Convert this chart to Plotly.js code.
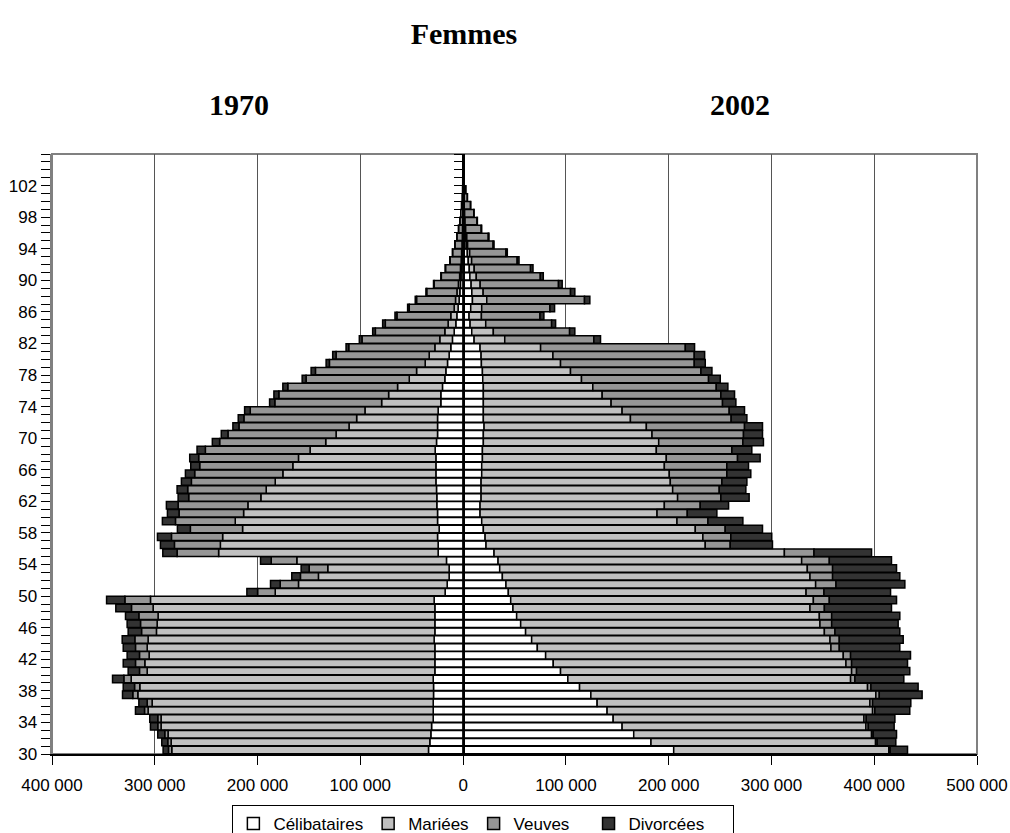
<!DOCTYPE html>
<html>
<head>
<meta charset="utf-8">
<script src="https://cdn.plot.ly/plotly-3.0.1.min.js"></script>
<style>
  body { margin: 0; background: #fff; }
  #chart { width: 1010px; height: 833px; }
</style>
</head>
<body>
<div id="chart"></div>
<script>
// ages (one bar per age), values in thousands of women
const ages = [30, 31, 32, 33, 34, 35, 36, 37, 38, 39, 40, 41, 42, 43, 44, 45, 46, 47, 48, 49,
  50, 51, 52, 53, 54, 55, 56, 57, 58, 59, 60, 61, 62, 63, 64, 65, 66, 67, 68, 69,
  70, 71, 72, 73, 74, 75, 76, 77, 78, 79, 80, 81, 82, 83, 84, 85, 86, 87, 88, 89,
  90, 91, 92, 93, 94, 95, 96, 97, 98, 99, 100, 101, 102, 103, 104, 105];

// 1970
const cel1970 = [33.7, 32.4, 31.4, 30.7, 29.1, 29.1, 29.1, 28.8, 28.8, 29.1, 27.5, 27.5, 27.5, 27.5, 28.2, 27.5, 27.5, 27.5, 27.5, 28.2,
  17.5, 15.5, 13.6, 13.6, 16.2, 24.3, 24.3, 24.9, 23.3, 24.9, 24.9, 25.6, 25.6, 25.9, 26.5, 26.5, 26.5, 26.5, 27.2, 25.9,
  24.9, 24.9, 24.9, 24.3, 21.7, 21.7, 20.1, 17.8, 16.8, 15.2, 13.6, 12.0, 10.4, 8.7, 7.1, 6.1, 4.9, 3.9, 3.2, 2.6,
  2.0, 1.6, 1.2, 1.0, 0.8, 0.6, 0.45, 0.3, 0.25, 0.18, 0.1, 0.06, 0.04, 0.02, 0.01, 0.01];
const mar1970 = [249.8, 251.7, 255.7, 263.2, 264.8, 277.4, 273.5, 287.7, 285.8, 293.9, 279.9, 282.2, 278.0, 279.9, 278.3, 270.9, 270.2, 269.3, 274.1, 276.0,
  165.3, 144.7, 127.2, 118.1, 145.6, 213.6, 211.9, 209.1, 191.3, 196.8, 188.7, 183.8, 171.2, 165.7, 156.3, 148.9, 139.2, 133.7, 121.7, 107.8,
  98.7, 86.1, 78.7, 71.2, 57.6, 50.8, 43.7, 34.6, 28.5, 21.7, 19.4, 15.5, 12.3, 9.1, 7.5, 5.9, 3.8, 3.5, 2.8, 2.0,
  1.4, 1.0, 0.7, 0.5, 0.3, 0.2, 0.15, 0.1, 0.05, 0.03, 0.02, 0.01, 0, 0, 0, 0];
const veu1970 = [3.2, 3.3, 3.2, 3.2, 3.2, 3.5, 4.8, 4.9, 5.1, 7.1, 7.5, 9.1, 9.4, 11.4, 12.9, 14.5, 16.2, 18.7, 21.1, 24.9,
  17.2, 17.8, 17.5, 18.1, 24.9, 40.4, 44.7, 49.8, 50.8, 58.2, 62.8, 67.9, 70.2, 76.4, 81.6, 85.8, 90.6, 97.1, 101.9, 103.2,
  105.2, 107.1, 109.7, 111.6, 103.9, 106.8, 106.8, 100.4, 98.4, 93.2, 90.6, 83.8, 75.7, 67.6, 61.1, 52.4, 43.7, 37.9, 29.4, 23.6,
  17.8, 14.5, 10.8, 8.7, 6.8, 5.2, 3.8, 2.7, 2.0, 1.4, 0.9, 0.5, 0.35, 0.2, 0.1, 0.08];
const div1970 = [5.2, 5.8, 6.8, 7.1, 7.8, 8.8, 8.1, 10.0, 11.0, 11.0, 11.0, 11.9, 12.0, 11.9, 12.3, 13.0, 13.0, 13.0, 15.2, 17.8,
  10.4, 9.4, 8.4, 7.8, 10.4, 13.9, 13.6, 13.6, 12.6, 12.7, 11.3, 11.4, 10.3, 10.3, 9.7, 9.0, 8.7, 8.7, 8.1, 7.1,
  6.5, 5.9, 5.5, 5.5, 5.1, 4.8, 4.8, 3.8, 4.2, 3.2, 3.3, 2.6, 2.6, 2.6, 2.6, 1.9, 1.6, 1.3, 0.8, 0.6,
  0.5, 0.4, 0.3, 0.2, 0.2, 0.1, 0.1, 0.1, 0, 0, 0, 0, 0, 0, 0, 0];

// 2002
const cel2002 = [204.9, 182.8, 166.0, 154.7, 146.0, 140.1, 130.4, 124.3, 113.3, 101.9, 94.8, 87.7, 80.3, 72.2, 66.7, 60.8, 56.0, 52.1, 48.5, 46.3,
  44.0, 41.7, 38.2, 35.6, 34.0, 30.1, 22.3, 21.4, 19.7, 18.1, 16.5, 16.5, 17.5, 17.5, 17.5, 18.1, 18.1, 18.8, 18.8, 19.7,
  19.7, 20.4, 19.7, 19.7, 19.7, 19.7, 19.7, 19.1, 18.8, 17.8, 17.5, 16.5, 10.7, 8.4, 6.8, 5.8, 7.4, 9.1, 8.5, 7.8,
  6.6, 6.0, 5.0, 4.1, 3.0, 2.6, 1.9, 1.5, 1.2, 0.8, 0.5, 0.3, 0.12, 0.07, 0.06, 0.04];
const mar2002 = [209.3, 218.5, 231.4, 237.2, 244.0, 258.3, 265.4, 277.3, 280.2, 275.1, 283.2, 284.8, 289.6, 285.7, 290.3, 290.7, 291.2, 294.5, 289.0, 294.5,
  289.7, 301.3, 299.3, 299.3, 295.4, 282.5, 213.3, 211.9, 206.2, 190.0, 172.2, 179.3, 191.2, 186.4, 184.1, 182.5, 177.7, 178.9, 169.2, 170.6,
  164.1, 157.9, 143.1, 135.0, 124.3, 115.6, 106.5, 96.1, 85.7, 77.0, 69.9, 58.9, 29.8, 21.0, 15.2, 12.0, 10.7, 13.9, 11.0, 8.8,
  6.2, 4.8, 3.3, 2.3, 1.4, 1.0, 0.6, 0.4, 0.3, 0.2, 0.1, 0.05, 0.02, 0.01, 0.01, 0];
const veu2002 = [1.3, 1.6, 1.6, 2.3, 2.2, 2.2, 2.6, 3.3, 3.3, 4.2, 4.8, 5.5, 7.1, 8.1, 9.0, 10.3, 11.4, 12.0, 14.0, 15.5,
  17.4, 19.8, 22.0, 24.6, 26.9, 28.8, 24.3, 27.2, 29.1, 30.1, 29.4, 34.9, 42.1, 45.3, 50.2, 56.0, 60.8, 69.3, 73.5, 81.9,
  89.0, 95.5, 98.0, 104.2, 108.4, 115.5, 120.1, 123.6, 126.9, 130.1, 137.5, 140.8, 86.7, 74.2, 64.1, 57.0, 66.4, 95.1, 85.0, 76.2,
  62.3, 54.8, 44.3, 35.3, 24.8, 20.9, 15.1, 11.6, 8.9, 6.2, 3.5, 2.2, 0.85, 0.5, 0.42, 0.25];
const div2002 = [16.9, 18.1, 22.7, 25.2, 27.9, 34.0, 37.2, 41.7, 45.9, 47.6, 51.8, 54.4, 58.3, 58.9, 62.2, 63.1, 64.7, 66.3, 65.3, 65.4,
  64.8, 67.0, 65.4, 62.2, 60.5, 56.0, 41.1, 39.8, 36.3, 34.0, 28.8, 27.6, 27.5, 25.9, 24.3, 23.3, 21.1, 22.0, 19.4, 20.0,
  18.5, 17.5, 15.3, 14.9, 13.0, 13.3, 11.3, 11.4, 10.7, 10.7, 10.1, 9.0, 6.5, 5.1, 3.9, 3.8, 4.5, 5.2, 4.2, 3.6,
  2.9, 2.4, 1.8, 1.3, 0.9, 0.7, 0.5, 0.4, 0.3, 0.2, 0.1, 0.05, 0.01, 0.01, 0.01, 0.01];

const seriesNames = ['Célibataires', 'Mariées', 'Veuves', 'Divorcées'];
// trailing non-breaking spaces only widen the legend columns like the original
const legendNames = ['Célibataires', 'Mariées', 'Veuves\u00a0\u00a0\u00a0', 'Divorcées\u00a0\u00a0\u00a0\u00a0\u00a0'];
const seriesColors = ['#ffffff', '#c0c0c0', '#969696', '#333333'];

const xTickVals = [-400, -300, -200, -100, 0, 100, 200, 300, 400, 500];
const xTickText = ['400 000', '300 000', '200 000', '100 000', '0', '100 000', '200 000', '300 000', '400 000', '500 000'];
const yLabelAges = [30, 34, 38, 42, 46, 50, 54, 58, 62, 66, 70, 74, 78, 82, 86, 90, 94, 98, 102];

const data1970 = [cel1970, mar1970, veu1970, div1970];
const data2002 = [cel2002, mar2002, veu2002, div2002];

const traces = [];
data1970.forEach((vals, i) => {
  traces.push({
    type: 'bar', orientation: 'h',
    y: ages, x: vals.map(v => -v),
    name: seriesNames[i], legendgroup: seriesNames[i], showlegend: false,
    marker: { color: seriesColors[i], line: { color: '#000', width: 1.5 } },
    hoverinfo: 'skip',
  });
});
data2002.forEach((vals, i) => {
  traces.push({
    type: 'bar', orientation: 'h',
    y: ages, x: vals, yaxis: 'y2',
    name: legendNames[i], legendgroup: seriesNames[i], showlegend: true,
    marker: { color: seriesColors[i], line: { color: '#000', width: 1.5 } },
    hoverinfo: 'skip',
  });
});

const bounds = ages.map(a => a - 0.5).concat([ages[ages.length - 1] + 0.5]);
const yRange = [bounds[0], bounds[bounds.length - 1]];
const sans = 'Arial, Liberation Sans, sans-serif';
const serif = 'Times New Roman, Liberation Serif, serif';

const layout = {
  width: 1010, height: 833,
  margin: { l: 52, r: 33, t: 154, b: 79, autoexpand: false },
  paper_bgcolor: '#fff', plot_bgcolor: '#fff',
  barmode: 'relative', bargap: 0.06,
  font: { family: sans, size: 17, color: '#000' },
  title: {
    text: 'Femmes', x: 464 / 1010, xanchor: 'center', y: 1 - 33 / 833, yanchor: 'middle',
    font: { family: serif, size: 30, weight: 'bold', color: '#000' },
  },
  annotations: [
    { text: '1970', xref: 'paper', yref: 'paper', x: 0.168, y: 1.082, yanchor: 'middle', showarrow: false,
      font: { family: serif, size: 30, weight: 'bold', color: '#000' } },
    { text: '2002', xref: 'paper', yref: 'paper', x: 0.778, y: 1.082, yanchor: 'middle', showarrow: false,
      font: { family: serif, size: 30, weight: 'bold', color: '#000' } },
  ],
  xaxis: {
    range: [-400, 500], tickmode: 'array', tickvals: xTickVals, ticktext: xTickText,
    ticks: 'outside', ticklen: 9, tickcolor: '#000', tickwidth: 1, ticklabelstandoff: 6,
    showgrid: true, gridcolor: '#555', gridwidth: 1, zeroline: false,
    showline: true, linecolor: '#000', linewidth: 1.5,
    tickfont: { family: sans, size: 17 }, fixedrange: true,
  },
  yaxis: {
    range: yRange, tickmode: 'array',
    tickvals: yLabelAges.map(a => a - 0.5), ticktext: yLabelAges.map(String),
    ticks: 'outside', ticklen: 9, tickcolor: '#000', tickwidth: 1,
    minor: { tickmode: 'array', tickvals: bounds, ticks: 'outside', ticklen: 9, tickcolor: '#000', tickwidth: 1 },
    showgrid: false, zeroline: false,
    showline: true, linecolor: '#808080', linewidth: 2.5,
    tickfont: { family: sans, size: 17 }, fixedrange: true,
  },
  yaxis2: {
    overlaying: 'y', anchor: 'free', position: 400 / 900, side: 'left',
    range: yRange, tickmode: 'array', tickvals: bounds,
    ticks: 'outside', ticklen: 9, tickcolor: '#000', tickwidth: 1,
    showticklabels: false, showgrid: false, zeroline: false,
    showline: true, linecolor: '#000', linewidth: 1.5, fixedrange: true,
  },
  shapes: [
    { type: 'rect', xref: 'paper', yref: 'paper', x0: 0, x1: 1, y0: 0, y1: 1,
      line: { color: '#808080', width: 2 }, layer: 'below' },
  ],
  legend: {
    orientation: 'h', x: 0.195, xanchor: 'left', y: -0.085, yanchor: 'top',
    bordercolor: '#000', borderwidth: 1, bgcolor: '#fff',
    font: { family: sans, size: 17 }, traceorder: 'normal', itemwidth: 30,
    tracegroupgap: 0,
  },
};

Plotly.newPlot('chart', traces, layout, { displayModeBar: false, staticPlot: true });
</script>
</body>
</html>
